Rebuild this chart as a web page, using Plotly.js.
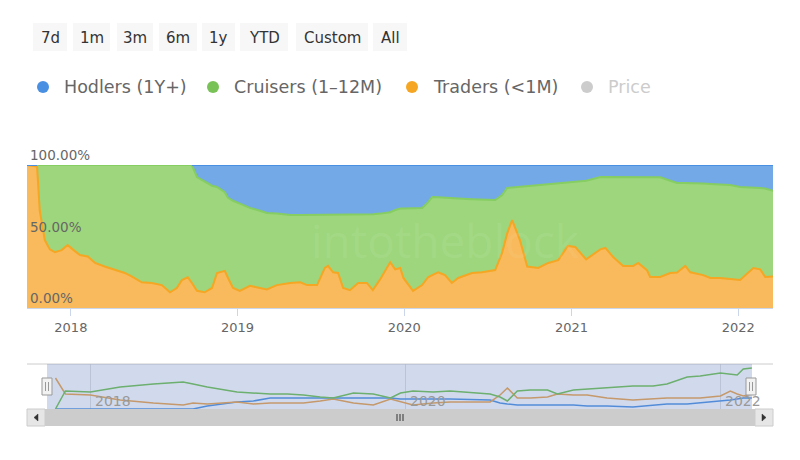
<!DOCTYPE html>
<html>
<head>
<meta charset="utf-8">
<script src="https://cdn.plot.ly/plotly-3.0.1.min.js"></script>
<style>html,body{margin:0;padding:0;background:#fff}#chart{width:800px;height:460px}</style>
</head>
<body>
<div id="chart"></div>
<script>
// ---------- DATA (main chart, share of addresses in %) ----------
const dates = [
'2017-09-27','2017-10-19','2017-10-25','2017-11-05','2017-11-16','2017-11-27','2017-12-12','2017-12-25',
'2018-01-05','2018-01-21','2018-02-07','2018-02-23','2018-03-16','2018-04-07','2018-04-29','2018-05-15',
'2018-06-05','2018-06-27','2018-07-19','2018-08-06','2018-08-21','2018-09-01','2018-09-14','2018-09-23',
'2018-10-04','2018-10-21','2018-11-06','2018-11-17','2018-12-04','2018-12-11','2018-12-22',
'2019-01-06','2019-01-28','2019-02-19','2019-03-06','2019-03-28','2019-04-26','2019-05-18','2019-06-02',
'2019-06-24','2019-07-11','2019-07-18','2019-07-29','2019-08-09','2019-08-20','2019-09-04','2019-09-22',
'2019-10-11','2019-10-24','2019-11-09','2019-12-01','2019-12-12','2019-12-23','2019-12-30',
'2020-01-20','2020-02-09','2020-02-22','2020-03-02','2020-03-15','2020-03-30','2020-04-14','2020-04-28',
'2020-05-28','2020-06-19','2020-07-18','2020-08-02','2020-08-13','2020-08-24','2020-09-10','2020-09-26',
'2020-10-20','2020-11-11','2020-12-03','2020-12-24',
'2021-01-09','2021-02-02','2021-03-05','2021-03-16','2021-04-02','2021-04-24','2021-05-16','2021-05-27',
'2021-06-15','2021-06-22','2021-07-14','2021-08-05','2021-08-20','2021-09-07','2021-09-18','2021-10-16',
'2021-11-01','2021-11-22','2021-12-14','2022-01-05','2022-02-03','2022-02-18','2022-03-01','2022-03-18'
];
const traders = [
100,99,68,47.5,41,39,40.5,44,
41,37,36,31.5,29,26.5,24.5,22,
18,17.5,16,11,14,19.5,21.5,17.5,
12,11,14,24.5,26,21,14,
12,15.5,14,13,16,17.5,18,16,
16,28,29.5,25,24.5,14,12.5,17.5,
17.5,12.5,20,32,27,28,21,
12,16,21.5,23,25,23,17.5,21,
24.5,25,26.5,38.5,52,61.5,47.5,29,
28,31.5,33.5,43.4,
42.7,34,41,42,35.7,29.4,29.4,31.5,
26.5,21.7,21.7,24.5,24.8,29.4,25,23,
21,21,20.5,19.6,28,27,21.7,22
];
const cruisers = [
0,1,32,52.5,59,61,59.5,56,
59,63,64,68.5,71,73.5,75.5,78,
82,82.5,84,89,86,80.5,78.5,82.5,
79.6,77.5,71.5,60.1,55,56,61,
61,54.5,54,53.5,50,47.5,47,49,
49,37,35.5,40,40.5,51,52.5,47.5,
47.5,53,46,35,41.5,41.5,48.5,
57.5,54,52.5,54.6,52.5,54,59,55.5,
51.5,51,49,40.5,32,22.8,37.3,56.3,
58,55,53.7,44.4,
45.5,55,50.6,49.6,55.9,62.2,62.2,60.1,
65.1,69.9,69.7,64.5,62.6,58,62.4,64,
65.8,65.5,65.5,65,56.3,57,61.8,60
];
const hodlers = [
0,0,0,0,0,0,0,0,
0,0,0,0,0,0,0,0,
0,0,0,0,0,0,0,0,
8.4,11.5,14.5,15.4,19,23,25,
27,30,32,33.5,34,35,35,35,
35,35,35,35,35,35,35,35,
35,34.5,34,33,31.5,30.5,30.5,
30.5,30,26,22.4,22.5,23,23.5,23.5,
24,24,24.5,21,16,15.7,15.2,14.7,
14,13.5,12.8,12.2,
11.8,11,8.4,8.4,8.4,8.4,8.4,8.4,
8.4,8.4,8.6,11,12.6,12.6,12.6,13,
13.2,13.5,14,15.4,15.7,16,16.5,18
];

// ---------- DATA (navigator, relative level of each cohort) ----------
const navDates = [
'2017-10-12','2017-10-24','2017-11-04','2018-01-01','2018-03-11','2018-05-27','2018-08-04','2018-08-27',
'2018-09-29','2018-12-07','2019-01-14','2019-02-22','2019-04-03','2019-05-10','2019-06-18','2019-07-18',
'2019-09-03','2019-10-19','2019-11-28','2019-12-21','2020-01-19','2020-03-06','2020-04-14','2020-07-16',
'2020-08-08','2020-08-25','2020-09-17','2020-10-17','2020-11-26','2020-12-19','2021-01-25','2021-02-26',
'2021-03-28','2021-04-13','2021-06-12','2021-07-29','2021-08-30','2021-10-16','2021-11-15','2022-01-01',
'2022-01-24','2022-02-09','2022-02-23','2022-03-15'
];
const navCruisers = [
0,20,40,37.8,48.9,55.6,60,55.6,
48.9,37.8,35.6,33.3,33.3,31.1,26.7,24.4,
35.6,33.3,24.4,35.6,40,37.8,40,33.3,
26.7,17.8,40,42.2,42.2,33.3,42.2,44.4,
46.7,46.7,51.1,51.1,55.6,71.1,73.3,80,
77.8,75.6,88.9,91.1
];
const navTraders = [
68.9,51.1,33.3,31.1,20,13.3,8.9,13.3,
11.1,15.6,11.1,13.3,13.3,13.3,17.8,22.2,
13.3,8.9,22.2,15.6,8.9,13.3,15.6,15.6,
31.1,46.7,24.4,24.4,26.7,33.3,31.1,31.1,
26.7,24.4,20,22.2,24.4,24.4,24.4,28.9,
40,33.3,28.9,33.3
];
const navHodlers = [
0,0,0,0,0,0,0,0,
6.7,15.6,17.8,24.4,24.4,24.4,24.4,24.4,
24.4,24.4,24.4,22.2,22.2,22.2,22.2,20,
13.3,11.1,8.9,8.9,8.9,8.9,8.9,6.7,
6.7,6.7,4.4,8.9,11.1,11.1,13.3,17.8,
20,22.2,24.4,24.4
];

// ---------- LABELS ----------
const yearTicks = ['2018-01-01','2019-01-01','2020-01-01','2021-01-01','2022-01-01'];
const yearLabels = ['2018','2019','2020','2021','2022'];
const navTicks = ['2018-01-01','2020-01-01','2022-01-01'];
const navLabels = ['2018','2020','2022'];
const pctTicks = [0,50,100];
const pctLabels = ['0.00%','50.00%','100.00%'];
const seriesNames = ['Hodlers (1Y+)','Cruisers (1\u201312M)','Traders (<1M)','Price'];
const rangeButtons = ['7d','1m','3m','6m','1y','YTD','Custom','All'];

// ---------- STYLE / LAYOUT HELPERS ----------
const W = 800, H = 460;
const px = x => x / W;
const py = y => 1 - y / H;
const FONT = 'DejaVu Sans, Verdana, sans-serif';
const C_BLUE = '#4a90e2', C_GREEN = '#86cd62', C_ORANGE = '#f5a623';

const traces = [
  {x: dates, y: traders, name: seriesNames[2], type: 'scatter', mode: 'lines',
   stackgroup: 'one', groupnorm: 'percent',
   line: {color: C_ORANGE, width: 2}, fillcolor: '#f8ba5c', xaxis: 'x', yaxis: 'y', hoverinfo: 'skip'},
  {x: dates, y: cruisers, name: seriesNames[1], type: 'scatter', mode: 'lines',
   stackgroup: 'one',
   line: {color: C_GREEN, width: 2}, fillcolor: '#9dd67c', xaxis: 'x', yaxis: 'y', hoverinfo: 'skip'},
  {x: dates, y: hodlers, name: seriesNames[0], type: 'scatter', mode: 'lines',
   stackgroup: 'one',
   line: {color: C_BLUE, width: 2}, fillcolor: '#73a9e6', xaxis: 'x', yaxis: 'y', hoverinfo: 'skip'},
  {x: navDates, y: navHodlers, type: 'scatter', mode: 'lines', line: {color: C_BLUE, width: 1.5},
   xaxis: 'x2', yaxis: 'y2', hoverinfo: 'skip'},
  {x: navDates, y: navTraders, type: 'scatter', mode: 'lines', line: {color: '#eea245', width: 1.5},
   xaxis: 'x2', yaxis: 'y2', hoverinfo: 'skip'},
  {x: navDates, y: navCruisers, type: 'scatter', mode: 'lines', line: {color: '#6fc24a', width: 1.5},
   xaxis: 'x2', yaxis: 'y2', hoverinfo: 'skip'}
];

const shapes = [];
const annotations = [];
const rect = (x0, y0, x1, y1, fill, line, lw) => shapes.push({type: 'rect', xref: 'paper', yref: 'paper',
  x0: px(x0), x1: px(x1), y0: py(y1), y1: py(y0), fillcolor: fill,
  line: {color: line || fill, width: lw === undefined ? 1 : lw}, layer: 'above'});
const seg = (x0, y0, x1, y1, color, w) => shapes.push({type: 'line', xref: 'paper', yref: 'paper',
  x0: px(x0), x1: px(x1), y0: py(y0), y1: py(y1), line: {color: color, width: w || 1}, layer: 'above'});
const tri = (pts, color) => shapes.push({type: 'path', xref: 'paper', yref: 'paper',
  path: 'M ' + pts.map(p => px(p[0]) + ',' + py(p[1])).join(' L ') + ' Z',
  fillcolor: color, line: {color: color, width: 0.5}, layer: 'above'});
const text = (x, y, t, size, color, xanchor) => annotations.push({xref: 'paper', yref: 'paper',
  x: px(x), y: py(y), text: t, showarrow: false, xanchor: xanchor || 'center', yanchor: 'middle',
  font: {family: FONT, size: size, color: color}});

// top edge stays green where the Hodlers share is still zero (cruisers drawn over hodlers, as in the source)
const firstHodl = hodlers.findIndex(v => v > 0);
shapes.push({type: 'line', xref: 'x', yref: 'y', x0: dates[1], x1: dates[firstHodl - 1], y0: 100, y1: 100,
  line: {color: C_GREEN, width: 2}, layer: 'above'});

// range selector buttons
const btnBoxes = [[33,67],[73,110],[117,153],[159,197],[202,235],[240,288],[296,368],[373,407]];
rangeButtons.forEach((b, i) => {
  rect(btnBoxes[i][0], 23, btnBoxes[i][1], 51, '#f7f7f7', '#f7f7f7', 0);
  text((btnBoxes[i][0] + btnBoxes[i][1]) / 2, 37.5, b, 15, '#333333');
});

// legend
const legX = [43, 213, 412, 587];
const legColors = [C_BLUE, '#79c257', C_ORANGE, '#cccccc'];
const legTextColors = ['#666666', '#666666', '#666666', '#cccccc'];
seriesNames.forEach((n, i) => {
  shapes.push({type: 'circle', xref: 'paper', yref: 'paper', x0: px(legX[i] - 6), x1: px(legX[i] + 6),
    y0: py(93), y1: py(81), fillcolor: legColors[i], line: {width: 0}, layer: 'above'});
  text(legX[i] + 19, 87, n, 17.5, legTextColors[i], 'left');
});

// watermark
annotations.push({xref: 'paper', yref: 'paper', x: px(445), y: py(240), text: 'intotheblock', showarrow: false,
  xanchor: 'center', yanchor: 'middle', font: {family: 'Open Sans, sans-serif', size: 46, color: 'rgba(255,255,255,0.08)'}});

// navigator decorations
seg(27, 364, 773, 364, '#cccccc', 1);
rect(47, 364, 752, 409, 'rgba(102,133,194,0.3)', 'rgba(0,0,0,0)', 0);
[[42, 52], [746, 756]].forEach(h => {
  rect(h[0], 378, h[1], 395, '#f2f2f2', '#999999', 1);
  seg(h[0] + 3.5, 382, h[0] + 3.5, 391, '#999999', 1);
  seg(h[0] + 6.5, 382, h[0] + 6.5, 391, '#999999', 1);
});
// scrollbar
rect(27, 409, 773, 426, '#f2f2f2', '#f2f2f2', 0);
rect(45, 409, 755, 426, '#cccccc', '#cccccc', 0);
rect(27, 409, 45, 426, '#e6e6e6', '#cccccc', 1);
rect(755, 409, 773, 426, '#e6e6e6', '#cccccc', 1);
tri([[38, 414], [34, 417.5], [38, 421]], '#333333');
tri([[762, 414], [766, 417.5], [762, 421]], '#333333');
[397, 400, 403].forEach(gx => seg(gx, 414, gx, 421, '#333333', 1));

// navigator year labels
navTicks.forEach((d, i) => annotations.push({xref: 'x2', yref: 'paper', x: d, y: py(401), text: navLabels[i],
  showarrow: false, xanchor: 'left', yanchor: 'middle', xshift: 3,
  font: {family: FONT, size: 14, color: '#999999'}}));

const layout = {
  width: W, height: H, margin: {l: 0, r: 0, t: 0, b: 0},
  paper_bgcolor: '#ffffff', plot_bgcolor: 'rgba(0,0,0,0)', showlegend: false,
  font: {family: FONT, color: '#666666'},
  xaxis: {domain: [px(27), px(773)], anchor: 'y', type: 'date', range: ['2017-09-27', '2022-03-18'],
    tickmode: 'array', tickvals: yearTicks, ticktext: yearLabels, ticks: 'outside', ticklen: 7,
    tickcolor: '#ccd6eb', tickwidth: 1, showline: true, linecolor: '#ccd6eb', linewidth: 1,
    showgrid: false, zeroline: false, tickfont: {family: FONT, size: 13, color: '#666666'}, fixedrange: true},
  yaxis: {domain: [py(308), py(165)], anchor: 'x', range: [0, 100], tickmode: 'array',
    tickvals: pctTicks, ticktext: pctLabels, ticklabelposition: 'inside top', ticklabeloverflow: 'allow',
    showgrid: false, zeroline: false, showline: false, ticks: '',
    tickfont: {family: FONT, size: 13.5, color: '#666666'}, fixedrange: true},
  xaxis2: {domain: [px(27), px(773)], anchor: 'y2', type: 'date', range: ['2017-08-07', '2022-05-03'],
    tickmode: 'array', tickvals: navTicks, showticklabels: false, ticks: '', showgrid: true,
    gridcolor: '#e0e0e0', zeroline: false, showline: false, fixedrange: true},
  yaxis2: {domain: [py(409), py(364)], anchor: 'x2', range: [0, 100], visible: false, fixedrange: true},
  shapes: shapes, annotations: annotations
};

Plotly.newPlot('chart', traces, layout, {displayModeBar: false, staticPlot: true});
</script>
</body>
</html>
